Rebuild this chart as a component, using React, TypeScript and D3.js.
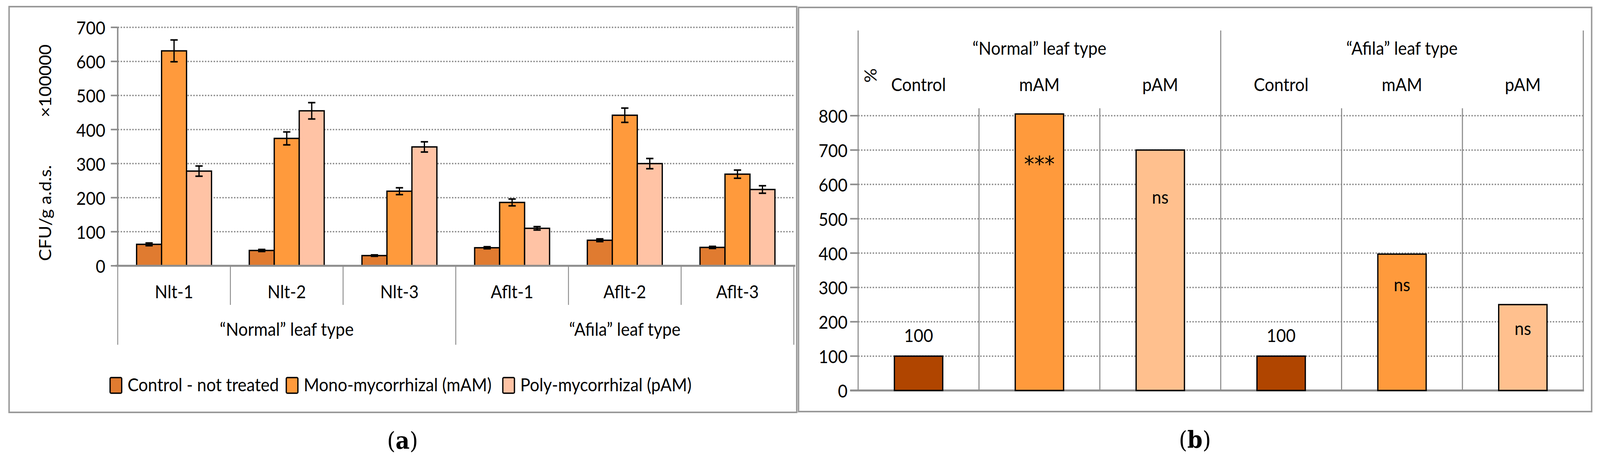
import React from "react";
import * as d3 from "d3";

// ---- panel (a) data ----
const categoriesA = ["Nlt-1", "Nlt-2", "Nlt-3", "Aflt-1", "Aflt-2", "Aflt-3"];
const leafTypes = ["“Normal” leaf type", "“Afila” leaf type"];
const seriesNames = ["Control - not treated", "Mono-mycorrhizal (mAM)", "Poly-mycorrhizal (pAM)"];
const controlValues = [63, 45, 30, 53, 75, 54];
const controlErr = [4, 3, 2, 3, 4, 3];
const mamValues = [631, 374, 219, 186, 442, 269];
const mamErr = [32, 19, 10, 10, 21, 12];
const pamValues = [278, 455, 349, 110, 300, 224];
const pamErr = [15, 24, 15, 5, 15, 11];
const yTicksA = [0, 100, 200, 300, 400, 500, 600, 700];

// ---- panel (b) data ----
const treatmentsB = ["Control", "mAM", "pAM"];
const percentB = [100, 805, 700, 100, 397, 250];
const labelsB = ["100", "***", "ns", "100", "ns", "ns"];
const labelAtB = [162, 675, 565, 162, 310, 182]; // value-axis position of each annotation
const yTicksB = [0, 100, 200, 300, 400, 500, 600, 700, 800];

const colorsA = ["#E07B30", "#FF9A3C", "#FFC3A5"];
const colorsB = ["#B04500", "#FF9A3C", "#FFC08E"];

const FONT = "Lato, 'Open Sans', sans-serif";
const FS = 46;
const GRID = "#8c8c8c";
const W = 4404;
const H = 1182;

const App: React.FC = () => {
  // panel (a) scales
  const yA = d3.scaleLinear().domain([0, 700]).range([680, 70]);
  const xA = d3.scaleBand<string>().domain(categoriesA).range([324, 2185]).paddingInner(0.335).paddingOuter(0.1675);
  const xA1 = d3.scaleBand<number>().domain([0, 1, 2]).range([0, xA.bandwidth()]);
  const stepA = xA.step();
  const seriesA = [
    { values: controlValues, err: controlErr },
    { values: mamValues, err: mamErr },
    { values: pamValues, err: pamErr },
  ];

  // panel (b) scales
  const yB = d3.scaleLinear().domain([0, 800]).range([999, 296]);
  const keysB = leafTypes.flatMap((g, gi) => treatmentsB.map((t) => `${gi}-${t}`));
  const xB = d3.scaleBand<string>().domain(keysB).range([2362, 4358]).paddingInner(0.6).paddingOuter(0.3);
  const stepB = xB.step();
  const leftB = 2362;

  return (
    <svg
      viewBox={`0 0 ${W} ${H}`}
      preserveAspectRatio="none"
      style={{ position: "absolute", left: 0, top: 0, width: "100vw", height: "100vh", background: "#fff", display: "block" }}
      fontFamily={FONT}
    >
      {/* frames */}
      <rect x={25} y={17} width={2168} height={1038} fill="none" stroke="#999" strokeWidth={4} />
      <rect x={2198} y={19} width={2183} height={1034} fill="none" stroke="#999" strokeWidth={4} />

      {/* ===== panel (a) ===== */}
      {yTicksA.filter((t) => t > 0).map((t) => (
        <line key={`ga${t}`} x1={324} x2={2187} y1={yA(t)} y2={yA(t)} stroke={GRID} strokeWidth={3.5} strokeDasharray="4 4" />
      ))}
      {yTicksA.map((t) => (
        <g key={`ta${t}`}>
          <line x1={305} x2={324} y1={yA(t)} y2={yA(t)} stroke={GRID} strokeWidth={4} />
          <text x={290} y={yA(t)} textAnchor="end" dominantBaseline="central" fontSize={FS}>{t}</text>
        </g>
      ))}
      <line x1={324} x2={324} y1={yA(700)} y2={yA(0)} stroke={GRID} strokeWidth={4} />
      <text transform={`translate(123,207) rotate(-90)`} textAnchor="middle" dominantBaseline="central" fontSize={FS}>×100000</text>
      <text transform={`translate(123,545) rotate(-90)`} textAnchor="middle" dominantBaseline="central" fontSize={FS}>CFU/g a.d.s.</text>

      {categoriesA.map((c, ci) => (
        <g key={c}>
          {seriesA.map((s, si) => {
            const x = (xA(c) as number) + (xA1(si) as number);
            const w = xA1.bandwidth();
            const v = s.values[ci];
            const e = s.err[ci];
            const cx = x + w / 2;
            return (
              <g key={si}>
                <rect x={x} y={yA(v)} width={w} height={yA(0) - yA(v)} fill={colorsA[si]} stroke="#000" strokeWidth={3.5} />
                <line x1={cx} x2={cx} y1={yA(v + e)} y2={yA(v - e)} stroke="#000" strokeWidth={3.5} />
                <line x1={cx - 10} x2={cx + 10} y1={yA(v + e)} y2={yA(v + e)} stroke="#000" strokeWidth={4} />
                <line x1={cx - 10} x2={cx + 10} y1={yA(v - e)} y2={yA(v - e)} stroke="#000" strokeWidth={4} />
              </g>
            );
          })}
          <text x={(xA(c) as number) + xA.bandwidth() / 2} y={745} textAnchor="middle" dominantBaseline="central" fontSize={FS}>{c}</text>
        </g>
      ))}
      {/* x axis and category separators */}
      {d3.range(categoriesA.length + 1).map((i) => {
        const x = 324 + i * stepA;
        const major = i % 3 === 0;
        return <line key={`sa${i}`} x1={x} x2={x} y1={yA(0)} y2={major ? 882 : 780} stroke={GRID} strokeWidth={2.5} />;
      })}
      <line x1={318} x2={2189} y1={yA(0)} y2={yA(0)} stroke={GRID} strokeWidth={5} />
      {leafTypes.map((g, gi) => (
        <text key={g} x={324 + (gi * 3 + 1.5) * stepA} y={841} textAnchor="middle" dominantBaseline="central" fontSize={FS}>{g}</text>
      ))}

      {/* legend */}
      {seriesNames.map((n, i) => {
        const x0 = [303, 788, 1384][i];
        return (
          <g key={n}>
            <rect x={x0} y={966} width={32} height={40} rx={3} fill={colorsA[i]} stroke="#000" strokeWidth={3.5} />
            <text x={x0 + 48} y={983} dominantBaseline="central" fontSize={FS}>{n}</text>
          </g>
        );
      })}

      <text x={1108} y={1127} textAnchor="middle" dominantBaseline="central" fontSize={60} fontFamily="'DejaVu Serif', serif">
        (<tspan fontWeight="bold">a</tspan>)
      </text>

      {/* ===== panel (b) ===== */}
      {yTicksB.filter((t) => t > 0).map((t) => (
        <line key={`gb${t}`} x1={leftB} x2={4358} y1={yB(t)} y2={yB(t)} stroke={GRID} strokeWidth={3.5} strokeDasharray="4 4" />
      ))}
      {yTicksB.map((t) => (
        <g key={`tb${t}`}>
          <line x1={2340} x2={leftB} y1={yB(t)} y2={yB(t)} stroke={GRID} strokeWidth={4} />
          <text x={2333} y={yB(t)} textAnchor="end" dominantBaseline="central" fontSize={FS}>{t}</text>
        </g>
      ))}
      {d3.range(keysB.length + 1).map((i) => {
        const x = leftB + i * stepB;
        const major = i % 3 === 0;
        return <line key={`sb${i}`} x1={x} x2={x} y1={major ? 78 : 277} y2={yB(0)} stroke={GRID} strokeWidth={3} />;
      })}
      <line x1={2340} x2={4360} y1={yB(0)} y2={yB(0)} stroke={GRID} strokeWidth={5} />
      <text transform={`translate(2395,193) rotate(-90)`} textAnchor="middle" dominantBaseline="central" fontSize={FS}>%</text>

      {keysB.map((k, i) => {
        const x = xB(k) as number;
        const v = percentB[i];
        const cx = x + xB.bandwidth() / 2;
        const stars = labelsB[i].startsWith("*");
        return (
          <g key={k}>
            <rect x={x} y={yB(v)} width={xB.bandwidth()} height={yB(0) - yB(v)} fill={colorsB[i % 3]} stroke="#000" strokeWidth={3.5} />
            <text
              x={cx}
              y={yB(labelAtB[i]) + (stars ? 14 : 0)}
              textAnchor="middle"
              dominantBaseline="central"
              fontSize={stars ? 56 : FS}
              fontFamily={stars ? "'DejaVu Sans', sans-serif" : undefined}
            >
              {labelsB[i]}
            </text>
            <text x={leftB + (i + 0.5) * stepB} y={215} textAnchor="middle" dominantBaseline="central" fontSize={FS}>{treatmentsB[i % 3]}</text>
          </g>
        );
      })}
      {leafTypes.map((g, gi) => (
        <text key={`lb${g}`} x={leftB + (gi * 3 + 1.5) * stepB} y={122} textAnchor="middle" dominantBaseline="central" fontSize={FS}>{g}</text>
      ))}

      <text x={3289} y={1125} textAnchor="middle" dominantBaseline="central" fontSize={60} fontFamily="'DejaVu Serif', serif">
        (<tspan fontWeight="bold">b</tspan>)
      </text>
    </svg>
  );
};

export default App;
